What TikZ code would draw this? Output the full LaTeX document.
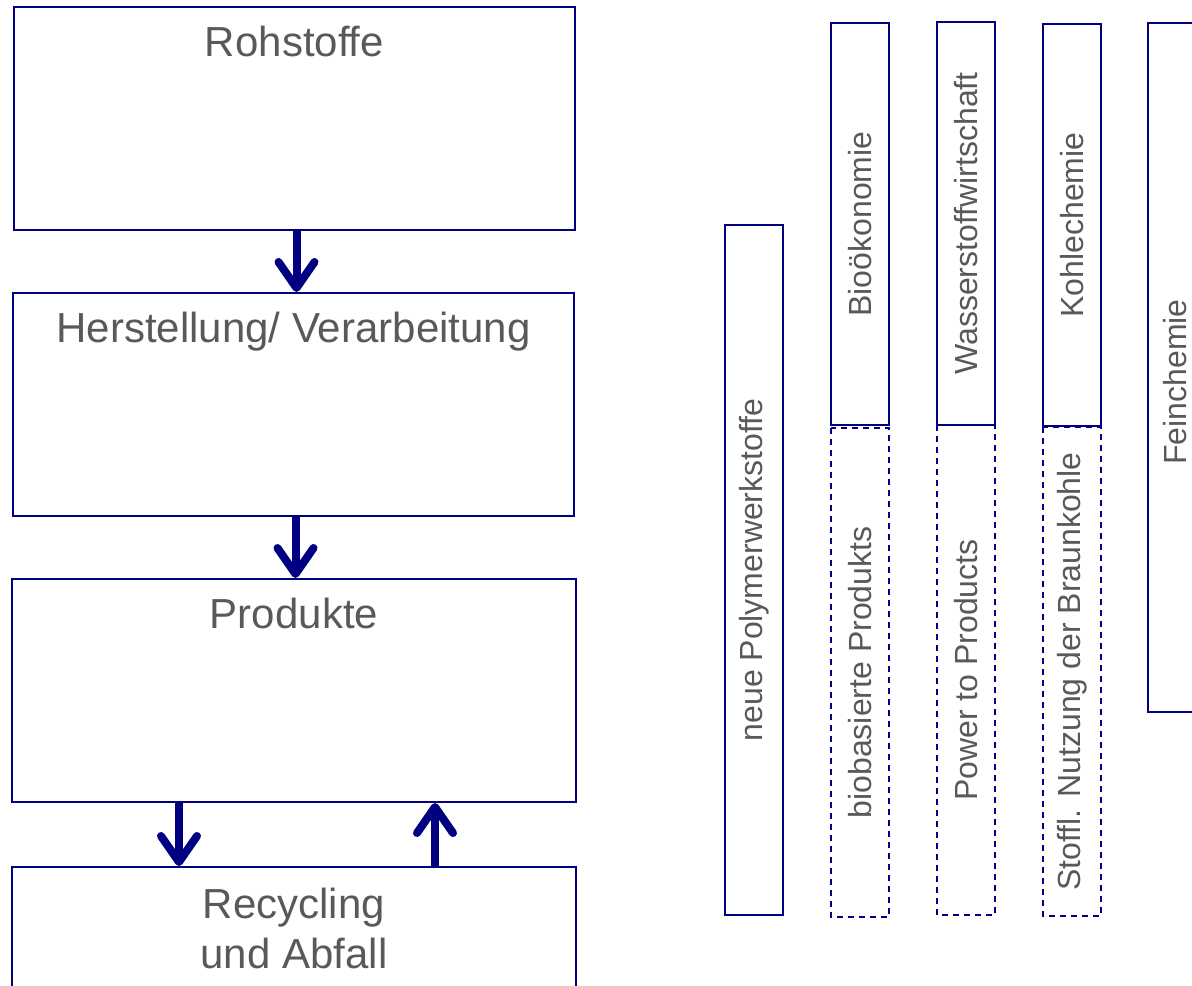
\documentclass[tikz,border=0pt]{standalone}
\usepackage{fontspec}
\setmainfont{Liberation Sans}
\usetikzlibrary{arrows.meta,positioning,calc}

\definecolor{boxnavy}{HTML}{000080}
\definecolor{textgrey}{HTML}{595959}

\tikzset{
  stage/.style={draw=boxnavy, line width=1pt, inner sep=0pt,
    minimum width=280.5pt, minimum height=111.5pt},
  stagetext/.style={text=textgrey, font=\fontsize{21}{25}\selectfont,
    inner sep=0pt, anchor=base, align=center},
  field/.style={draw=boxnavy, line width=1pt, inner sep=0pt, rotate=90,
    minimum height=29pt, text=textgrey, font=\fontsize{16}{19}\selectfont},
  subfield/.style={field, dash pattern=on 3pt off 2.5pt},
  flow/.style={draw=boxnavy, line width=4pt,
    -{Straight Barb[length=13pt,width=18pt,round]}}
}

\begin{document}
\begin{tikzpicture}[x=0.5pt, y=-0.5pt]
    \clip (0,0) rectangle (1192,985);

    % Value chain
    \node[stage] (rohstoffe) at (294.5,118.5) {};
    \node[stage] (herstellung) at (293.5,404.5) {};
    \node[stage, minimum width=282pt] (produkte) at (294,690.5) {};
    \node[stage, minimum width=282pt] (recycling) at (294,978.5) {};

    \node[stagetext] (rohstoffetext) at ([yshift=-25pt]rohstoffe.north) {Rohstoffe};
    \node[stagetext] (herstellungtext) at ([yshift=-25pt]herstellung.north) {Herstellung/ Verarbeitung};
    \node[stagetext] (produktetext) at ([yshift=-25pt]produkte.north) {Produkte};
    % base of a two-line node is its last line
    \node[stagetext] (recyclingtext) at ([yshift=-51pt]recycling.north) {Recycling\\und Abfall};

    % Flows
    \draw[flow] ([xshift=1pt]rohstoffe.south) -- ([xshift=1pt]rohstoffe.south |- herstellung.north);
    \draw[flow] ([xshift=1pt]herstellung.south) -- ([xshift=1pt]herstellung.south |- produkte.north);
    \draw[flow] ([xshift=-57.5pt]produkte.south) -- ([xshift=-57.5pt]recycling.north);
    \draw[flow] ([xshift=70.5pt]recycling.north) -- ([xshift=70.5pt]produkte.south);

    % Fields
    \node[field, minimum width=345pt] (polymer) at (754,570) {neue Polymerwerkstoffe};
    \node[field, minimum width=201pt] (bio) at (860,224) {Bioökonomie};
    \node[subfield, minimum width=244.5pt] (biobasiert) at (860,672.5) {biobasierte Produkts};
    \node[field, minimum width=201.5pt] (wasserstoff) at (966,223.5) {Wasserstoffwirtschaft};
    \node[subfield, minimum width=245pt] (power) at (966,670) {Power to Products};
    \node[field, minimum width=201pt] (kohle) at (1072,225) {Kohlechemie};
    \node[subfield, minimum width=244.5pt] (braunkohle) at (1072,671.5) {Stoffl. Nutzung der Braunkohle};
    \node[field, minimum width=344.5pt] (fein) at (1177,367.5) {};
    \node[text=textgrey, font=\fontsize{16}{19}\selectfont, rotate=90, inner sep=0pt] (feintext) at (1175,382) {Feinchemie};
\end{tikzpicture}
\end{document}
